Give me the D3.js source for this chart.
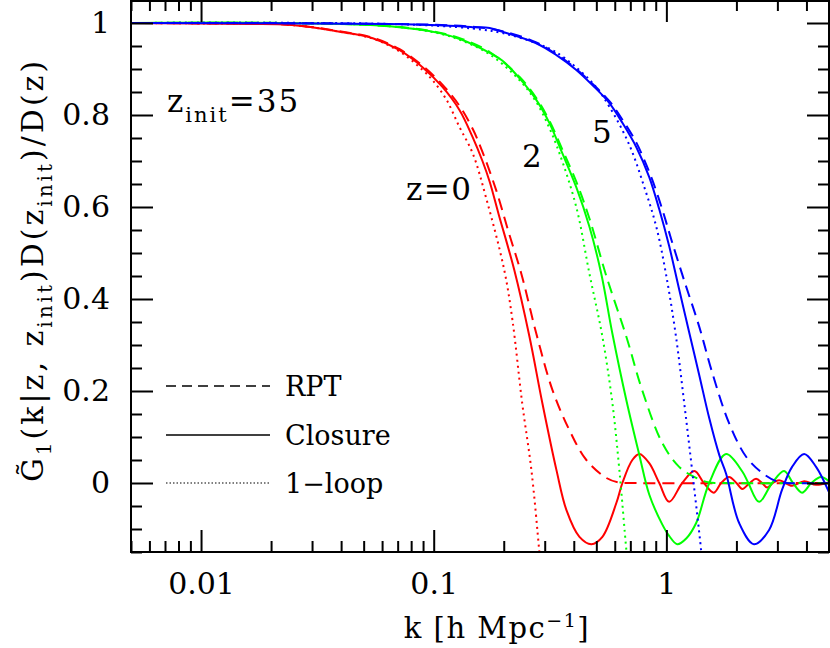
<!DOCTYPE html>
<html>
<head>
<meta charset="utf-8">
<script src="https://cdn.jsdelivr.net/npm/d3@7"></script>
<style>
  body { margin: 0; background: #fff; }
  svg text { font-family: "DejaVu Serif", serif; fill: #000; }
</style>
</head>
<body>
<div id="chart"></div>
<script>
// values: [k (h/Mpc), G]
const closureZ0 = [[0.005,1.0],[0.01,0.999],[0.0162,0.998],[0.0241,0.996],[0.0394,0.981],[0.0547,0.967],[0.0714,0.941],[0.0895,0.904],[0.109,0.861],[0.129,0.811],[0.147,0.752],[0.162,0.70],[0.174,0.655],[0.19,0.585],[0.222,0.463],[0.258,0.318],[0.293,0.174],[0.337,0.028],[0.372,-0.059],[0.423,-0.117],[0.476,-0.133],[0.531,-0.117],[0.610,-0.043],[0.647,0.0],[0.714,0.050],[0.766,0.063],[0.844,0.043],[0.932,0.0],[1.028,-0.041],[1.17,0.0],[1.32,0.026],[1.45,0.0],[1.60,-0.021],[1.72,0],[1.86,0.013],[2.0,0],[2.12,-0.013],[2.28,0],[2.43,0.009],[2.58,0],[2.71,-0.010],[2.87,0],[3.05,0.006],[3.47,-0.006],[3.91,0.004],[4.40,-0.004],[5.0,0.002]];
const rptZ0 = [[0.005,1],[0.01,0.999],[0.0241,0.996],[0.0394,0.982],[0.0547,0.968],[0.0714,0.943],[0.0895,0.907],[0.109,0.866],[0.129,0.820],[0.147,0.77],[0.162,0.72],[0.186,0.635],[0.21,0.545],[0.238,0.455],[0.276,0.325],[0.324,0.202],[0.383,0.115],[0.453,0.050],[0.552,0.011],[0.628,0.001],[0.7,0],[5.0,0]];
const loopZ0 = [[0.005,1],[0.01,0.999],[0.0241,0.996],[0.0394,0.981],[0.0547,0.966],[0.0714,0.938],[0.0895,0.898],[0.0988,0.876],[0.1135,0.833],[0.129,0.774],[0.147,0.717],[0.169,0.615],[0.201,0.463],[0.218,0.354],[0.240,0.174],[0.263,0.028],[0.284,-0.146],[0.29,-0.2]];

const closureZ2 = [[0.005,1],[0.0241,1.0],[0.0647,0.993],[0.106,0.978],[0.133,0.963],[0.174,0.935],[0.1976,0.918],[0.2335,0.880],[0.276,0.833],[0.314,0.783],[0.357,0.717],[0.410,0.643],[0.467,0.557],[0.525,0.455],[0.586,0.325],[0.673,0.180],[0.766,0.060],[0.844,-0.025],[0.960,-0.090],[1.028,-0.115],[1.113,-0.133],[1.22,-0.12],[1.343,-0.087],[1.528,0.0],[1.806,0.063],[2.12,0.025],[2.25,0],[2.503,-0.041],[2.847,0],[3.205,0.026],[3.5,0],[3.83,-0.021],[4.2,0],[4.62,0.013],[5.0,0.004]];
const rptZ2 = [[0.005,1],[0.0241,1],[0.0647,0.993],[0.106,0.979],[0.133,0.965],[0.174,0.937],[0.2335,0.883],[0.276,0.837],[0.314,0.788],[0.357,0.725],[0.410,0.655],[0.467,0.575],[0.552,0.45],[0.673,0.318],[0.787,0.202],[0.960,0.087],[1.135,0.035],[1.343,0.011],[1.528,0.001],[1.7,0],[5,0]];
const loopZ2 = [[0.005,1],[0.0241,1],[0.0647,0.993],[0.106,0.977],[0.133,0.961],[0.174,0.932],[0.2335,0.876],[0.276,0.828],[0.314,0.772],[0.347,0.717],[0.410,0.60],[0.467,0.455],[0.531,0.318],[0.586,0.174],[0.628,0.028],[0.673,-0.146],[0.69,-0.2]];

const closureZ5 = [[0.005,1],[0.0647,0.998],[0.105,0.995],[0.147,0.991],[0.174,0.989],[0.1976,0.981],[0.276,0.956],[0.337,0.930],[0.410,0.898],[0.481,0.865],[0.569,0.826],[0.647,0.783],[0.743,0.730],[0.844,0.665],[0.932,0.595],[1.028,0.515],[1.13,0.425],[1.25,0.33],[1.384,0.235],[1.53,0.14],[1.69,0.06],[1.806,0.02],[2.055,-0.087],[2.38,-0.133],[2.764,-0.102],[3.14,-0.015],[3.47,0.035],[3.91,0.063],[4.40,0.035],[5.0,-0.02]];
const rptZ5 = [[0.005,1],[0.0647,0.998],[0.147,0.992],[0.1976,0.982],[0.276,0.958],[0.337,0.932],[0.410,0.90],[0.481,0.868],[0.569,0.83],[0.647,0.79],[0.743,0.74],[0.804,0.702],[0.870,0.659],[0.960,0.595],[1.049,0.53],[1.193,0.44],[1.384,0.34],[1.574,0.24],[1.86,0.130],[2.202,0.057],[2.58,0.022],[2.96,0.004],[3.27,0],[5,0]];
const loopZ5 = [[0.005,1],[0.0647,0.998],[0.147,0.988],[0.1976,0.978],[0.276,0.956],[0.337,0.936],[0.481,0.87],[0.569,0.818],[0.693,0.735],[0.804,0.643],[0.905,0.557],[0.998,0.452],[1.10,0.318],[1.193,0.174],[1.29,0.028],[1.41,-0.146],[1.44,-0.2]];

const xMajor = [0.01, 0.1, 1];
const xLabels = ['0.01', '0.1', '1'];
const yMajor = [0, 0.2, 0.4, 0.6, 0.8, 1];
const yLabels = ['0', '0.2', '0.4', '0.6', '0.8', '1'];

const W = 830, H = 648;
const mLeft = 131, mRight = 829, mTop = 0, mBottom = 552;

let svg = d3.select('#chart').append('svg').attr('width', W).attr('height', H);

let x = d3.scaleLog().domain([0.005, 5]).range([mLeft, mRight]);
let y = d3.scaleLinear().domain([-0.15, 1.05]).range([mBottom, mTop]);

svg.append('clipPath').attr('id', 'plot')
  .append('rect').attr('x', mLeft).attr('y', mTop).attr('width', mRight - mLeft).attr('height', mBottom - mTop);

/// curves
let line = d3.line()
  .x(function(d) { return x(d[0]); })
  .y(function(d) { return y(d[1]); })
  .curve(d3.curveCatmullRom.alpha(0.5));

let series = [
  {data: rptZ0, color: '#ff0000', dash: '12,7'},
  {data: closureZ0, color: '#ff0000', dash: null},
  {data: loopZ0, color: '#ff0000', dash: '2,4'},
  {data: rptZ2, color: '#00ff00', dash: '12,7'},
  {data: closureZ2, color: '#00ff00', dash: null},
  {data: loopZ2, color: '#00ff00', dash: '2,4'},
  {data: rptZ5, color: '#0000ff', dash: '12,7'},
  {data: closureZ5, color: '#0000ff', dash: null},
  {data: loopZ5, color: '#0000ff', dash: '2,4'}
];

let curves = svg.append('g').attr('clip-path', 'url(#plot)');
series.forEach(function(s) {
  curves.append('path')
    .attr('d', line(s.data))
    .attr('fill', 'none')
    .attr('stroke', s.color)
    .attr('stroke-width', 2)
    .attr('stroke-dasharray', s.dash);
});

/// axes: majors and minors, ticks pointing inward on all four sides
let xMinor = x.ticks().filter(function(v) { return xMajor.indexOf(v) < 0; });
let yMinor = d3.range(-3, 21).map(function(i) { return i * 0.05; })
  .filter(function(v) { return Math.abs(Math.round(v * 5) - v * 5) > 1e-6; });

function styleAxis(g) {
  g.select('.domain').remove();
  g.selectAll('.tick line').attr('stroke', '#000').attr('stroke-width', 2);
  g.selectAll('.tick text').attr('font-size', 30).attr('font-family', '"DejaVu Serif", serif');
}

svg.append('g').attr('transform', 'translate(0,' + mBottom + ')')
  .call(d3.axisBottom(x).tickValues(xMajor).tickSize(-22).tickPadding(21)
    .tickFormat(function(d, i) { return xLabels[i]; }))
  .call(styleAxis);
svg.append('g').attr('transform', 'translate(0,' + mBottom + ')')
  .call(d3.axisBottom(x).tickValues(xMinor).tickSize(-11).tickFormat(''))
  .call(styleAxis);
svg.append('g').attr('transform', 'translate(0,' + mTop + ')')
  .call(d3.axisTop(x).tickValues(xMajor).tickSize(-22).tickFormat(''))
  .call(styleAxis);
svg.append('g').attr('transform', 'translate(0,' + mTop + ')')
  .call(d3.axisTop(x).tickValues(xMinor).tickSize(-11).tickFormat(''))
  .call(styleAxis);

svg.append('g').attr('transform', 'translate(' + mLeft + ',0)')
  .call(d3.axisLeft(y).tickValues(yMajor).tickSize(-22).tickPadding(21)
    .tickFormat(function(d, i) { return yLabels[i]; }))
  .call(styleAxis);
svg.append('g').attr('transform', 'translate(' + mLeft + ',0)')
  .call(d3.axisLeft(y).tickValues(yMinor).tickSize(-11).tickFormat(''))
  .call(styleAxis);
svg.append('g').attr('transform', 'translate(' + mRight + ',0)')
  .call(d3.axisRight(y).tickValues(yMajor).tickSize(-22).tickFormat(''))
  .call(styleAxis);
svg.append('g').attr('transform', 'translate(' + mRight + ',0)')
  .call(d3.axisRight(y).tickValues(yMinor).tickSize(-11).tickFormat(''))
  .call(styleAxis);

/// frame
svg.append('rect')
  .attr('x', mLeft).attr('y', mTop + 1).attr('width', mRight - mLeft).attr('height', mBottom - mTop - 1)
  .attr('fill', 'none').attr('stroke', '#000').attr('stroke-width', 2);

/// axis titles
let xt = svg.append('text').attr('x', 497).attr('y', 638).attr('text-anchor', 'middle')
  .attr('font-size', 29).attr('letter-spacing', 1.5);
xt.append('tspan').text('k [h Mpc');
xt.append('tspan').attr('dy', -11).attr('font-size', 19).text('−1');
xt.append('tspan').attr('dy', 11).text(']');

let yt = svg.append('text').attr('transform', 'translate(43,270) rotate(-90)')
  .attr('text-anchor', 'middle').attr('font-size', 30).attr('letter-spacing', 3);
yt.append('tspan').text('G\u0303');
yt.append('tspan').attr('dy', 8).attr('font-size', 20).text('1');
yt.append('tspan').attr('dy', -8).text('(k|z,  z');
yt.append('tspan').attr('dy', 9).attr('font-size', 20).text('init');
yt.append('tspan').attr('dy', -9).text(')D(z');
yt.append('tspan').attr('dy', 9).attr('font-size', 20).text('init');
yt.append('tspan').attr('dy', -9).text(')/D(z)');

/// annotations
let zi = svg.append('text').attr('x', 167).attr('y', 112).attr('font-size', 31).attr('letter-spacing', 2);
zi.append('tspan').text('z');
zi.append('tspan').attr('dy', 10).attr('font-size', 21).text('init');
zi.append('tspan').attr('dy', -10).text('=35');

svg.append('text').attr('x', 406).attr('y', 200).attr('font-size', 31).attr('letter-spacing', 1.5).text('z=0');
svg.append('text').attr('x', 522).attr('y', 167).attr('font-size', 31).text('2');
svg.append('text').attr('x', 592).attr('y', 143).attr('font-size', 31).text('5');

/// legend
let legendRows = [
  {label: 'RPT', dash: '10,6', width: 1.5, y: 386},
  {label: 'Closure', dash: null, width: 1.5, y: 435},
  {label: '1\u2212loop', dash: '1.5,2', width: 1.2, y: 483}
];
legendRows.forEach(function(r) {
  svg.append('line').attr('x1', 166).attr('x2', 270).attr('y1', r.y).attr('y2', r.y)
    .attr('stroke', '#000').attr('stroke-width', r.width).attr('stroke-dasharray', r.dash);
  svg.append('text').attr('x', 285).attr('y', r.y + 10).attr('font-size', 27).text(r.label);
});
</script>
</body>
</html>
